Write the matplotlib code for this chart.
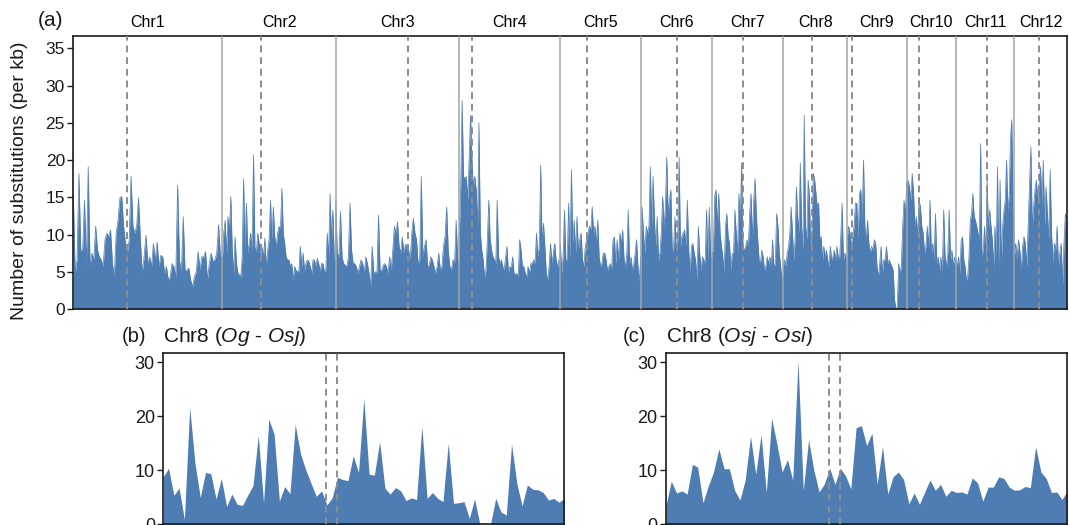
import numpy as np
import matplotlib
matplotlib.use("Agg")
import matplotlib.pyplot as plt

plt.rcParams['font.family'] = ['Liberation Sans', 'DejaVu Sans']
plt.rcParams['mathtext.fontset'] = 'custom'
plt.rcParams['mathtext.rm'] = 'Liberation Sans'
plt.rcParams['mathtext.it'] = 'Liberation Sans:italic'

# ---- genome-wide data (Og vs Osj), substitutions per kb ----
chrom_names = ['Chr1', 'Chr2', 'Chr3', 'Chr4', 'Chr5', 'Chr6',
               'Chr7', 'Chr8', 'Chr9', 'Chr10', 'Chr11', 'Chr12']
chrom_len = [149.0, 113.4, 123.6, 101.0, 80.4, 71.3, 71.3, 64.0, 59.4, 49.3, 58.3, 52.4]
cen_pos = [53.4, 38.4, 72.3, 13.0, 26.7, 36.0, 30.7, 28.4, 4.4, 12.3, 30.7, 24.7]

chr1 = [15.5, 4.8, 6.6, 18.2, 7.9, 7.9, 14.6, 5.7, 19.1, 5.7, 7.5, 6.6, 11.1, 7.9, 7.0, 6.6, 5.7,
        9.3, 10.2, 9.7, 10.6, 6.1, 4.3, 10.2, 11.9, 14.9, 15.1, 11.1, 8.8, 7.5, 9.3, 17.8, 11.1,
        10.2, 11.1, 14.9, 9.3, 4.8, 7.0, 9.9, 6.1, 7.0, 5.7, 8.8, 6.6, 9.0, 5.7, 7.2, 7.0, 4.8,
        5.7, 3.9, 4.3, 6.1, 5.7, 4.3, 16.6, 6.6, 4.8, 12.4, 5.2, 5.2, 5.5, 3.9, 3.0, 4.3, 5.0,
        7.7, 5.2, 7.0, 7.0, 7.7, 3.9, 6.1, 7.5, 6.4, 6.6, 7.5, 11.3, 7.0, 7.0]
chr2 = [6.6, 10.2, 11.9, 7.5, 12.4, 10.6, 15.1, 7.9, 4.8, 9.7, 6.1, 4.8, 4.6, 4.3, 7.0, 17.5, 7.9,
        14.2, 7.5, 8.8, 10.2, 7.9, 20.7, 8.3, 7.5, 10.2, 8.8, 7.0, 8.3, 7.0, 9.5, 5.7, 7.9, 9.3,
        14.6, 9.3, 13.7, 9.7, 8.3, 10.2, 11.1, 10.6, 16.2, 10.2, 8.8, 7.0, 6.6, 6.6, 5.7, 6.1,
        3.9, 5.7, 5.2, 5.0, 5.0, 8.4, 5.7, 7.5, 5.2, 6.1, 6.6, 6.4, 5.7, 4.8, 6.6, 6.6, 5.7,
        6.8, 6.1, 5.0, 6.1, 6.1, 5.0, 5.2, 10.2, 7.0, 15.5, 9.3, 13.3, 6.6, 6.1]
chr3 = [14.6, 7.5, 7.0, 13.1, 7.0, 6.1, 5.9, 5.7, 7.0, 14.2, 7.9, 6.1, 6.1, 5.7, 4.8, 5.7, 6.6,
        6.1, 4.8, 7.0, 6.1, 4.8, 3.0, 8.4, 4.8, 5.0, 4.8, 12.6, 5.2, 5.2, 5.9, 6.1, 5.7, 4.8,
        7.0, 5.2, 7.9, 11.1, 10.2, 11.7, 8.4, 7.5, 9.7, 7.5, 8.7, 8.4, 7.9, 6.6, 10.2, 12.2,
        10.2, 9.3, 6.1, 6.6, 17.8, 7.0, 8.4, 9.3, 5.7, 5.9, 7.0, 6.6, 5.7, 4.8, 5.7, 7.5, 5.2,
        5.7, 8.4, 9.7, 13.7, 7.9, 5.7, 5.2, 6.6, 6.1, 11.9, 6.6, 5.7]
chr4 = [10.2, 16.4, 28.0, 17.8, 17.5, 17.8, 14.6, 20.0, 26.0, 20.0, 16.4, 17.8, 16.0, 11.1, 25.0,
        10.2, 7.9, 6.6, 4.3, 5.2, 9.3, 14.6, 9.3, 7.9, 7.0, 6.6, 6.1, 14.6, 7.0, 6.1, 6.6, 5.7,
        5.2, 7.0, 8.4, 4.8, 5.7, 5.5, 7.0, 4.8, 4.6, 4.8, 4.3, 9.3, 7.9, 5.7, 5.7, 4.8, 4.3, 5.7,
        4.8, 6.1, 6.1, 6.6, 6.1, 10.2, 7.0, 8.4, 19.3, 8.8, 11.5, 8.4, 4.8, 3.9, 5.7, 8.8, 6.1,
        7.5, 8.8, 6.6, 5.7, 6.6, 6.1]
chr5 = [8.8, 4.8, 7.0, 13.3, 6.6, 6.6, 14.2, 6.6, 18.7, 8.8, 11.9, 7.5, 12.4, 7.9, 9.3, 10.2, 6.6,
        5.7, 8.4, 9.3, 10.2, 11.1, 10.6, 13.7, 10.2, 11.1, 8.8, 11.9, 7.0, 5.7, 6.1, 7.5, 7.5,
        6.6, 5.2, 5.7, 6.1, 5.2, 9.3, 9.7, 6.1, 9.3, 6.6, 10.2, 8.8, 10.6, 6.6, 5.7, 7.5, 13.3,
        6.1, 7.0, 5.2, 6.1, 7.5, 9.3, 5.7, 3.7, 7.0]
chr6 = [4.3, 13.7, 10.2, 7.5, 11.1, 10.2, 11.1, 19.1, 11.1, 17.8, 11.9, 8.4, 12.4, 6.6, 7.5, 10.2,
        15.1, 11.1, 13.7, 20.4, 12.8, 14.6, 16.0, 7.5, 8.4, 12.4, 7.5, 9.3, 20.4, 8.4, 9.7, 10.2,
        10.6, 8.4, 14.6, 7.9, 4.8, 8.4, 8.8, 7.5, 6.6, 3.9, 11.1, 7.5, 5.2, 7.0, 6.6, 6.1, 13.3,
        6.6, 13.7, 7.0, 6.6]
chr7 = [7.5, 7.9, 15.1, 16.0, 11.1, 15.5, 10.2, 8.4, 7.0, 4.8, 11.1, 12.8, 9.7, 8.8, 5.2, 7.5, 7.5,
        13.3, 10.2, 7.5, 15.5, 11.9, 19.6, 8.4, 7.9, 8.4, 9.3, 8.4, 12.8, 15.5, 9.3, 14.6, 17.5,
        12.4, 9.3, 6.6, 6.1, 7.9, 7.0, 5.2, 5.7, 7.0, 6.1, 7.0, 5.7, 9.3, 5.7, 6.1, 12.8, 11.1,
        7.5, 5.7, 3.9, 4.8]
chr8 = [5.7, 6.6, 5.7, 7.5, 8.4, 10.2, 13.7, 10.2, 6.6, 9.3, 16.4, 12.4, 10.2, 19.6, 11.1, 7.9,
        26.0, 11.1, 9.3, 17.3, 15.1, 7.5, 11.1, 18.2, 17.3, 15.5, 13.7, 14.2, 9.3, 9.7, 6.6, 8.4,
        7.0, 7.9, 6.6, 5.7, 8.4, 6.6, 7.0, 7.9, 6.6, 8.4, 7.0, 6.6, 9.7, 14.2, 6.6, 7.5, 7.0, 5.7]
chr9 = [9.7, 11.1, 10.2, 8.4, 9.7, 11.1, 14.2, 14.2, 9.3, 15.5, 16.0, 11.9, 20.0, 11.1, 9.3, 11.9,
        8.8, 7.5, 8.4, 7.9, 9.3, 8.8, 5.7, 4.3, 6.1, 8.4, 4.8, 6.6, 6.6, 8.4, 6.1, 6.6, 6.1, 5.7,
        5.2, 1.2, 0.0, 0.3, 6.1, 4.8, 5.7, 11.1, 14.6, 12.8, 16.9]
chr10 = [15.5, 17.3, 16.4, 14.6, 18.2, 15.5, 11.1, 12.4, 9.7, 14.6, 13.7, 11.1, 10.2, 7.5, 8.4,
         11.1, 8.4, 14.6, 7.5, 8.8, 6.6, 12.8, 6.1, 7.0, 5.2, 7.0, 4.8, 13.3, 7.0, 5.7, 7.5, 13.3,
         6.6, 7.9, 5.7, 7.0, 5.7]
chr11 = [6.6, 5.7, 7.0, 4.8, 9.3, 9.7, 6.6, 5.7, 3.9, 4.3, 7.0, 11.9, 12.8, 15.5, 12.4, 11.9, 11.1,
         10.2, 9.3, 22.2, 7.0, 7.9, 11.1, 7.0, 17.3, 10.6, 13.3, 11.1, 9.3, 5.7, 11.1, 7.0, 19.1,
         6.1, 17.3, 6.1, 11.1, 13.3, 14.6, 20.0, 13.3, 15.1, 22.7, 25.4, 14.6, 7.0]
chr12 = [7.0, 8.8, 6.6, 9.3, 7.9, 5.2, 8.4, 9.7, 8.8, 5.7, 11.1, 16.4, 21.8, 11.1, 13.7, 16.0,
         17.3, 14.6, 16.9, 19.1, 14.2, 20.0, 11.1, 16.4, 12.8, 9.3, 18.7, 10.2, 6.1, 8.8, 7.9,
         11.1, 5.7, 7.5, 8.8, 3.4, 8.8, 12.8, 11.9]
genome = [chr1, chr2, chr3, chr4, chr5, chr6, chr7, chr8, chr9, chr10, chr11, chr12]

# ---- Chr8 zoom-in windows ----
og_osj = [8.8, 10.4, 5.4, 6.7, 0.9, 21.7, 11.3, 5.0, 9.6, 9.4, 4.7, 8.5, 3.3, 5.6, 3.7, 3.5, 5.4,
          7.2, 16.5, 4.0, 19.5, 16.7, 4.3, 7.0, 5.7, 18.5, 13.1, 10.1, 7.6, 5.2, 6.2, 3.6, 4.9,
          8.7, 8.3, 8.1, 12.7, 9.6, 23.3, 9.3, 9.1, 15.3, 6.7, 5.6, 6.8, 6.2, 4.4, 4.9, 4.6, 18.2,
          4.8, 5.9, 4.8, 4.2, 15.0, 3.9, 4.0, 4.2, 1.1, 4.7, 0.0, 0.0, 0.0, 4.8, 2.3, 1.7, 14.9,
          7.6, 3.4, 7.3, 6.5, 6.4, 5.9, 4.5, 4.8, 4.1, 4.8]
osj_osi = [3.5, 8.0, 5.8, 6.2, 5.6, 11.1, 10.6, 4.0, 7.1, 9.7, 14.0, 10.3, 10.3, 6.3, 4.5, 8.2,
           16.3, 9.3, 16.6, 5.9, 19.7, 14.9, 9.7, 12.0, 8.2, 30.3, 6.3, 15.7, 10.0, 6.0, 7.5, 10.4,
           7.4, 10.4, 9.0, 6.6, 17.9, 18.3, 14.6, 16.9, 7.5, 14.4, 5.6, 8.8, 9.7, 8.3, 3.8, 5.8,
           3.7, 6.0, 8.2, 6.3, 7.4, 5.2, 6.3, 5.9, 6.0, 5.6, 8.6, 7.7, 4.3, 6.9, 6.9, 8.8, 8.5,
           6.9, 6.3, 6.4, 7.0, 6.8, 14.4, 9.7, 8.5, 5.9, 6.0, 4.6, 6.2]
chr8_cen = [30.9, 33.0]

BLUE = '#4d7db3'
W, H = 1069, 525
fig = plt.figure(figsize=(W / 100, H / 100), dpi=100)


def style_axes(ax, size):
    for s in ax.spines.values():
        s.set_color('#1a1a1a')
        s.set_linewidth(1.2)
    ax.set_xticks([])
    ax.tick_params(axis='y', direction='out', length=4, width=1, pad=2,
                   labelsize=size, colors='#1a1a1a')


# ---- (a) genome-wide ----
ax = fig.add_axes([73.3 / W, 1 - 309 / H, 993.4 / W, 273 / H])
starts = np.concatenate([[0], np.cumsum(chrom_len)[:-1]])
xs, ys = [], []
for st, L, vals in zip(starts, chrom_len, genome):
    xs.append(st + np.linspace(0, L, len(vals)))
    ys.append(vals)
xs = np.concatenate(xs)
ys = np.concatenate(ys)
ax.fill_between(xs, 0, ys, color=BLUE, lw=0)
ax.plot(xs, ys, color=BLUE, lw=0.5)
for st in starts[1:]:
    ax.axvline(st, color='#a3a3a3', lw=1.1, zorder=3)
for st, c in zip(starts, cen_pos):
    ax.axvline(st + c, color='#8c8c8c', lw=1.4, dashes=(3.5, 2.5), zorder=3)
for st, L, name in zip(starts, chrom_len, chrom_names):
    ax.text(st + L / 2, 36.65 + 1.75, name, ha='center', va='center', fontsize=11.5)
ax.set_xlim(0, sum(chrom_len))
ax.set_ylim(0, 36.65)
ax.set_yticks(range(0, 36, 5))
style_axes(ax, 12.5)
fig.text(20 / W, 1 - 181 / H, 'Number of substitutions (per kb)', rotation=90,
         ha='center', va='center', fontsize=14, color='#1a1a1a')
fig.text(38 / W, 1 - 21 / H, '(a)', ha='left', va='center', fontsize=15, color='#1a1a1a')

# ---- (b) and (c) Chr8 ----
panels = [(163.3, 401.0, og_osj, '(b)', 122, r'Chr8 ($\mathit{Og}$ - $\mathit{Osj}$)'),
          (666.0, 401.3, osj_osi, '(c)', 623, r'Chr8 ($\mathit{Osj}$ - $\mathit{Osi}$)')]
for left, width, vals, tag, tagx, title in panels:
    axp = fig.add_axes([left / W, 0.7 / H, width / W, 171 / H])
    x = np.arange(len(vals))
    axp.fill_between(x, 0, vals, color=BLUE, lw=0)
    for c in chr8_cen:
        axp.axvline(c, color='#8c8c8c', lw=1.4, dashes=(3.5, 2.5), zorder=3)
    axp.set_xlim(0, len(vals) - 1)
    axp.set_ylim(0, 31.7)
    axp.set_yticks([0, 10, 20, 30])
    style_axes(axp, 13)
    fig.text(tagx / W, 1 - 337 / H, tag, ha='left', va='center', fontsize=14.5, color='#1a1a1a')
    fig.text((left - 0.5) / W, 1 - 337 / H, title, ha='left', va='center', fontsize=15,
             color='#1a1a1a')

fig.savefig('out.png', dpi=100)
